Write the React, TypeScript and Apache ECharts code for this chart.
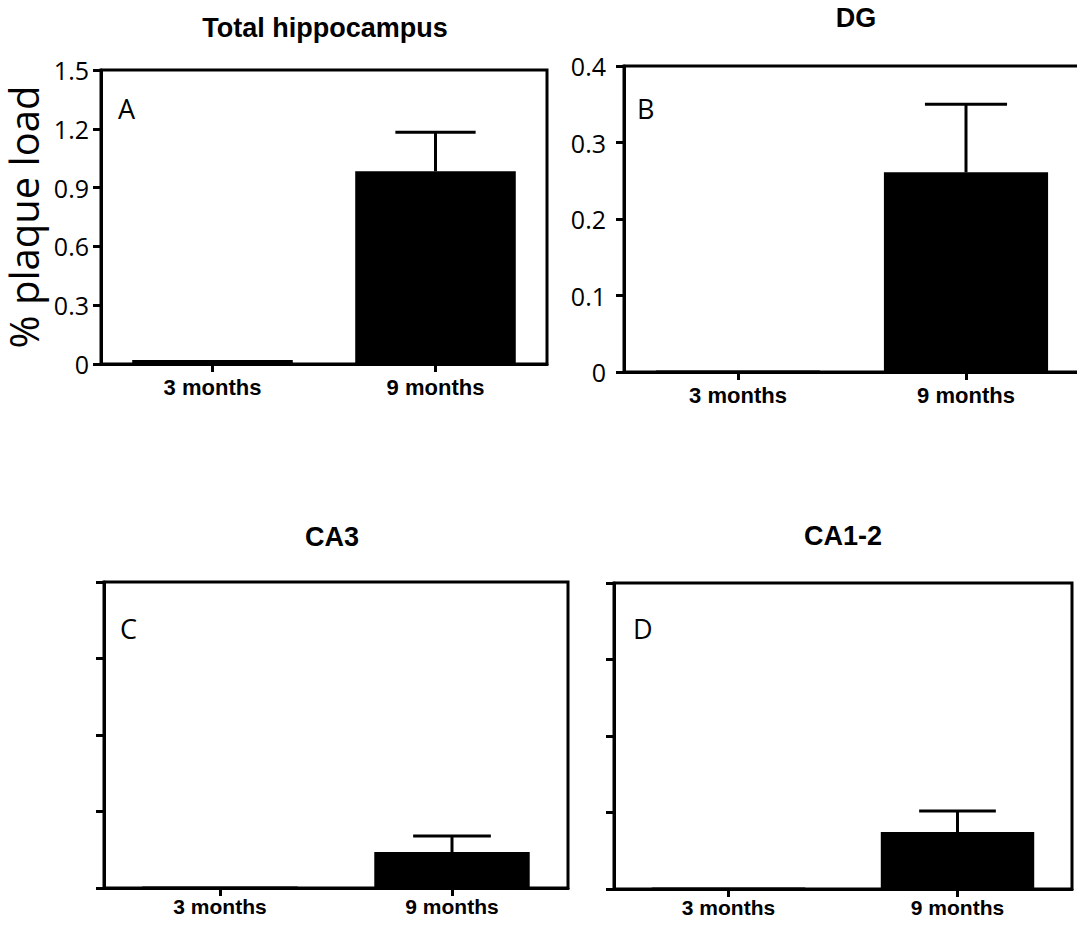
import React, { useEffect, useRef } from "react";
import * as echarts from "echarts";

// ---- data ----
const categories = ["3 months", "9 months"];
const panelTitles = ["Total hippocampus", "DG", "CA3", "CA1-2"];
const panelLetters = ["A", "B", "C", "D"];
const yAxisTitle = "% plaque load";

const meanA = [0.02, 0.983];
const errTopA = [null, 1.183];
const meanB = [0.002, 0.261];
const errTopB = [null, 0.35];
const meanC = [0.002, 0.047];
const errTopC = [null, 0.068];
const meanD = [0.002, 0.0745];
const errTopD = [null, 0.102];

const yTicksA = ["0", "0.3", "0.6", "0.9", "1.2", "1.5"];
const yTicksB = ["0", "0.1", "0.2", "0.3", "0.4"];

// ---- layout / style ----
const panels = [
  { grid: { left: 101, top: 70, width: 446, height: 294 }, max: 1.5, interval: 0.3, ticks: yTicksA, mean: meanA, err: errTopA, barRatio: 0.72, labelMargin: 12, xLabelSize: 22, xLabelMargin: 12, showName: true },
  { grid: { left: 624, top: 66, width: 456, height: 306 }, max: 0.4, interval: 0.1, ticks: yTicksB, mean: meanB, err: errTopB, barRatio: 0.72, labelMargin: 18, xLabelSize: 22, xLabelMargin: 12, showName: false },
  { grid: { left: 104, top: 582, width: 464, height: 306 }, max: 0.4, interval: 0.1, ticks: null, mean: meanC, err: errTopC, barRatio: 0.67, labelMargin: 12, xLabelSize: 21, xLabelMargin: 8, showName: false },
  { grid: { left: 614, top: 583, width: 458, height: 306 }, max: 0.4, interval: 0.1, ticks: null, mean: meanD, err: errTopD, barRatio: 0.67, labelMargin: 12, xLabelSize: 21, xLabelMargin: 8, showName: false },
];

const titlePos = [
  { x: 325, y: 28 },
  { x: 856, y: 18 },
  { x: 332, y: 537 },
  { x: 843, y: 536 },
];
const letterPos = [
  { x: 118, y: 108 },
  { x: 637, y: 108 },
  { x: 120, y: 628 },
  { x: 633, y: 628 },
];

const CAP_RATIO = 0.5;

export default function App() {
  const ref = useRef<HTMLDivElement>(null);

  useEffect(() => {
    if (!ref.current) return;
    const chart = echarts.init(ref.current, undefined, { renderer: "svg" });

    const grids: any[] = [];
    const xAxes: any[] = [];
    const yAxes: any[] = [];
    const series: any[] = [];

    panels.forEach((p, i) => {
      grids.push({
        ...p.grid,
        show: true,
        borderColor: "#000",
        borderWidth: 3,
        backgroundColor: "transparent",
        containLabel: false,
        outerBoundsMode: "none",
      });
      xAxes.push({
        type: "category",
        gridIndex: i,
        data: categories,
        axisLine: { show: true, lineStyle: { color: "#000", width: 3 } },
        axisTick: { show: true, alignWithLabel: true, length: 8, lineStyle: { color: "#000", width: 3 } },
        axisLabel: {
          show: true,
          color: "#000",
          fontFamily: "Liberation Sans, Arial, sans-serif",
          fontWeight: "bold",
          fontSize: p.xLabelSize,
          margin: p.xLabelMargin,
        },
        splitLine: { show: false },
      });
      const ticks = p.ticks;
      yAxes.push({
        type: "value",
        gridIndex: i,
        min: 0,
        max: p.max,
        interval: p.interval,
        name: p.showName ? yAxisTitle : "",
        nameLocation: "middle",
        nameRotate: 90,
        nameGap: 58,
        nameTextStyle: { fontFamily: "Open Sans", fontSize: 40, color: "#000" },
        axisLine: { show: true, lineStyle: { color: "#000", width: 3 } },
        axisTick: { show: true, inside: false, length: 8, lineStyle: { color: "#000", width: 3 } },
        axisLabel: {
          show: !!ticks,
          color: "#000",
          fontFamily: "Open Sans",
          fontSize: 25,
          margin: p.labelMargin,
          formatter: (v: number, idx: number) => (ticks ? ticks[idx] ?? String(v) : ""),
        },
        splitLine: { show: false },
      });
      series.push({
        type: "bar",
        xAxisIndex: i,
        yAxisIndex: i,
        data: p.mean,
        barWidth: `${Math.round(p.barRatio * 100)}%`,
        itemStyle: { color: "#000" },
        silent: true,
        z: 2,
      });
      const errData: any[] = [];
      p.err.forEach((e, k) => {
        if (e !== null && e !== undefined) errData.push([k, p.mean[k], e]);
      });
      const barRatio = p.barRatio;
      series.push({
        type: "custom",
        xAxisIndex: i,
        yAxisIndex: i,
        data: errData,
        encode: { x: 0, y: [1, 2] },
        silent: true,
        z: 3,
        renderItem: (params: any, api: any) => {
          const x = api.value(0);
          const y = api.value(1);
          const top = api.value(2);
          const p0 = api.coord([x, y]);
          const p1 = api.coord([x, top]);
          const band = api.size([1, 0])[0];
          const half = (band * barRatio * CAP_RATIO) / 2;
          return {
            type: "group",
            children: [
              { type: "line", shape: { x1: p0[0], y1: p0[1], x2: p1[0], y2: p1[1] }, style: { stroke: "#000", lineWidth: 3 } },
              { type: "line", shape: { x1: p1[0] - half, y1: p1[1], x2: p1[0] + half, y2: p1[1] }, style: { stroke: "#000", lineWidth: 3 } },
            ],
          };
        },
      });
    });

    const graphics: any[] = [];
    panelTitles.forEach((t, i) => {
      graphics.push({
        type: "text",
        x: titlePos[i].x,
        y: titlePos[i].y,
        style: {
          text: t,
          fill: "#000",
          fontFamily: "Liberation Sans, Arial, sans-serif",
          fontWeight: "bold",
          fontSize: 27,
          textAlign: "center",
          textVerticalAlign: "middle",
        },
      });
    });
    panelLetters.forEach((t, i) => {
      graphics.push({
        type: "text",
        x: letterPos[i].x,
        y: letterPos[i].y,
        style: {
          text: t,
          fill: "#000",
          fontFamily: "Open Sans",
          fontSize: 27,
          textAlign: "left",
          textVerticalAlign: "middle",
        },
      });
    });

    chart.setOption({
      animation: false,
      backgroundColor: "#fff",
      grid: grids,
      xAxis: xAxes,
      yAxis: yAxes,
      series,
      graphic: graphics,
    });

    return () => chart.dispose();
  }, []);

  return (
    <div
      ref={ref}
      style={{ position: "fixed", left: 0, top: 0, width: 1077, height: 928, background: "#fff" }}
    />
  );
}
